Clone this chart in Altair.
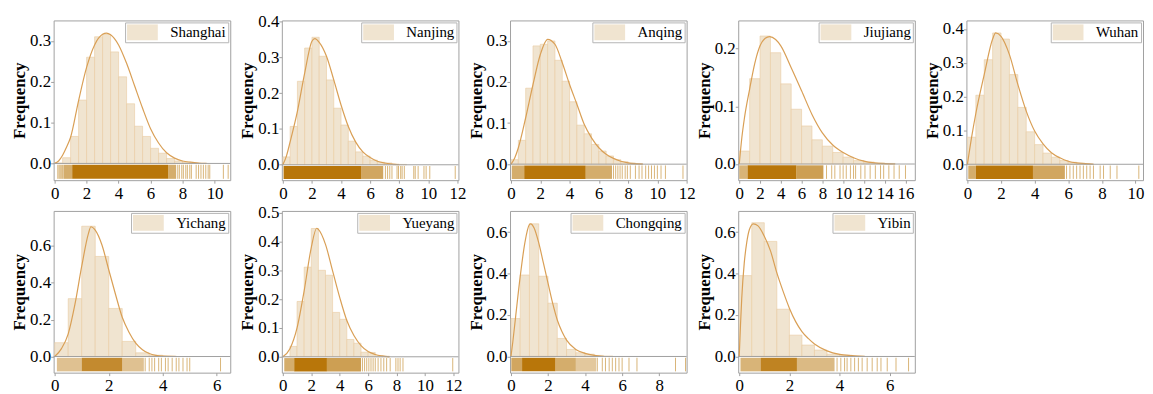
import altair as alt
import pandas as pd

FONT = "Liberation Serif, Times New Roman, Times, DejaVu Serif, serif"
BAR_FILL = "#f0e4d0"
BAR_EDGE = "#e9cba0"
CURVE_COLOR = "#d99f55"
RUG_COLOR = "#b8760a"
FRAME = "#a0a0a0"

CITIES = ["Shanghai", "Nanjing", "Anqing", "Jiujiang", "Wuhan",
          "Yichang", "Yueyang", "Chongqing", "Yibin"]

BIN_WIDTH = [0.5, 0.5, 0.5, 1.0, 0.5, 0.5, 0.5, 0.5, 0.5]

X_MIN = [-0.06, -0.07, -0.07, -0.1, -0.06, -0.04, -0.07, -0.05, -0.04]
X_MAX = [10.98, 12.07, 12.0, 16.9, 10.45, 6.5, 12.35, 9.48, 7.0]
Y_MIN = [-0.041, -0.043, -0.039, -0.028, -0.047, -0.0875, -0.055, -0.078, -0.078]
Y_MAX = [0.35, 0.403, 0.35, 0.249, 0.425, 0.79, 0.506, 0.702, 0.702]
X_TICK_STEP = [2, 2, 2, 2, 2, 2, 2, 2, 2]
Y_TICK_STEP = [0.1, 0.1, 0.1, 0.1, 0.1, 0.2, 0.1, 0.2, 0.2]

# ---- histogram frequencies (bins start at 0) ----
SHANGHAI_FREQ = [0.001, 0.014, 0.066, 0.155, 0.26, 0.31, 0.316, 0.273, 0.212, 0.146,
                 0.091, 0.066, 0.037, 0.025, 0.012, 0.006, 0.003, 0.001]
NANJING_FREQ = [0.022, 0.107, 0.233, 0.326, 0.356, 0.303, 0.237, 0.158, 0.111, 0.066,
                0.036, 0.024, 0.013, 0.007, 0.005, 0.002, 0.001]
ANQING_FREQ = [0.011, 0.058, 0.185, 0.288, 0.292, 0.30, 0.253, 0.202, 0.152, 0.095,
               0.074, 0.048, 0.032, 0.02, 0.011, 0.006, 0.003, 0.001]
JIUJIANG_FREQ = [0.0225, 0.148, 0.222, 0.193, 0.139, 0.095, 0.066, 0.042, 0.031, 0.02,
                 0.012, 0.006, 0.0035, 0.002, 0.001]
WUHAN_FREQ = [0.08, 0.204, 0.309, 0.388, 0.37, 0.265, 0.168, 0.096, 0.058, 0.033,
              0.021, 0.011, 0.006, 0.003, 0.001]
YICHANG_FREQ = [0.075, 0.314, 0.707, 0.543, 0.261, 0.082, 0.02, 0.007, 0.003]
YUEYANG_FREQ = [0.001, 0.036, 0.192, 0.311, 0.445, 0.30, 0.283, 0.154, 0.13, 0.06,
                0.047, 0.016, 0.015, 0.003, 0.002]
CHONGQING_FREQ = [0.183, 0.393, 0.64, 0.387, 0.257, 0.087, 0.034, 0.018, 0.011, 0.005, 0.002]
YIBIN_FREQ = [0.39, 0.645, 0.555, 0.228, 0.103, 0.055, 0.031, 0.011, 0.006, 0.003]

# ---- fitted density curves ----
SHANGHAI_CX = [0, 0.25, 0.5, 0.75, 1, 1.5, 2, 2.5, 3, 3.25, 3.5, 4, 4.5, 5, 5.5, 6, 6.5, 7, 7.5, 8, 8.5, 9, 9.5]
SHANGHAI_CY = [0, 0.006, 0.02, 0.04, 0.064, 0.154, 0.235, 0.29, 0.316, 0.319, 0.315, 0.29, 0.245,
               0.19, 0.135, 0.085, 0.05, 0.026, 0.013, 0.006, 0.003, 0.001, 0]
NANJING_CX = [0, 0.25, 0.5, 1, 1.5, 2, 2.2, 2.5, 3, 3.5, 4, 4.5, 5, 5.5, 6, 6.5, 7, 7.5, 8]
NANJING_CY = [0, 0.025, 0.064, 0.149, 0.256, 0.345, 0.352, 0.342, 0.303, 0.237, 0.167, 0.107,
              0.064, 0.036, 0.02, 0.01, 0.005, 0.002, 0]
ANQING_CX = [0, 0.25, 0.5, 1, 1.5, 2, 2.5, 3, 3.5, 4, 4.5, 5, 5.5, 6, 6.5, 7, 7.5, 8, 9]
ANQING_CY = [0, 0.015, 0.04, 0.113, 0.194, 0.267, 0.304, 0.292, 0.247, 0.194, 0.146, 0.097,
             0.064, 0.04, 0.024, 0.014, 0.007, 0.003, 0]
JIUJIANG_CX = [0, 0.25, 0.5, 1, 1.5, 2, 2.5, 2.92, 3.5, 4, 5, 6, 7, 8, 9, 10, 11, 12, 13, 14, 15]
JIUJIANG_CY = [0, 0.046, 0.08, 0.13, 0.175, 0.205, 0.218, 0.221, 0.216, 0.205, 0.167, 0.127,
               0.086, 0.054, 0.033, 0.02, 0.011, 0.005, 0.002, 0.0006, 0]
WUHAN_CX = [0, 0.25, 0.5, 1, 1.5, 1.68, 2, 2.5, 3, 3.5, 4, 4.5, 5, 5.5, 6, 6.5, 7, 7.5]
WUHAN_CY = [0, 0.08, 0.15, 0.265, 0.37, 0.388, 0.378, 0.324, 0.236, 0.157, 0.098, 0.06,
            0.034, 0.019, 0.009, 0.004, 0.002, 0]
YICHANG_CX = [0, 0.25, 0.5, 0.75, 1, 1.25, 1.34, 1.5, 1.75, 2, 2.25, 2.5, 2.75, 3, 3.25, 3.5, 3.75, 4, 4.5]
YICHANG_CY = [0, 0.043, 0.123, 0.284, 0.49, 0.668, 0.704, 0.686, 0.605, 0.471, 0.338, 0.213,
              0.132, 0.073, 0.037, 0.016, 0.006, 0.002, 0]
YUEYANG_CX = [0, 0.5, 1, 1.5, 2, 2.38, 2.5, 3, 3.5, 4, 4.5, 5, 5.5, 6, 6.5, 7, 7.5]
YUEYANG_CY = [0, 0.028, 0.1, 0.229, 0.379, 0.446, 0.442, 0.39, 0.298, 0.206, 0.126, 0.074,
              0.039, 0.018, 0.008, 0.003, 0]
CHONGQING_CX = [0, 0.1, 0.25, 0.5, 0.75, 1, 1.06, 1.25, 1.5, 1.75, 2, 2.25, 2.5, 2.75, 3, 3.5, 4, 4.5, 5]
CHONGQING_CY = [0, 0.07, 0.19, 0.386, 0.548, 0.637, 0.64, 0.62, 0.548, 0.451, 0.354, 0.257,
                0.176, 0.12, 0.079, 0.034, 0.015, 0.005, 0]
YIBIN_CX = [0, 0.05, 0.1, 0.2, 0.3, 0.4, 0.56, 0.75, 1, 1.25, 1.5, 1.75, 2, 2.25, 2.5, 2.75, 3, 3.5, 4, 4.5, 5]
YIBIN_CY = [0, 0.15, 0.28, 0.45, 0.55, 0.61, 0.64, 0.63, 0.58, 0.508, 0.403, 0.314, 0.233,
            0.168, 0.12, 0.087, 0.06, 0.027, 0.01, 0.004, 0]

# ---- rug: dense stretches [start, end, density] and isolated observations ----
SHANGHAI_RUG_BANDS = [[0.55, 1.1, 0.6], [1.1, 7.1, 1.0], [7.1, 7.6, 0.6]]
SHANGHAI_RUG = [0.2, 0.28, 0.35, 0.42, 0.5, 7.7, 7.8, 7.95, 8.05, 8.2, 8.3, 8.45, 8.55,
                8.85, 9.0, 9.15, 9.3, 9.45, 9.6, 9.7, 10.55, 10.85]
NANJING_RUG_BANDS = [[0.05, 5.4, 1.0], [5.4, 6.9, 0.65]]
NANJING_RUG = [7.05, 7.2, 7.35, 7.5, 7.85, 7.95, 8.1, 8.2, 8.35, 9.0, 9.1, 9.3, 9.7, 9.85,
               10.1, 11.85]
ANQING_RUG_BANDS = [[0.05, 0.9, 0.6], [0.9, 5.1, 1.0], [5.1, 6.9, 0.6]]
ANQING_RUG = [7.0, 7.15, 7.3, 7.45, 7.6, 7.8, 7.95, 8.15, 8.5, 8.75, 8.95, 9.2, 9.4, 9.6,
              9.8, 10.0, 10.25, 10.55, 11.75]
JIUJIANG_RUG_BANDS = [[0.0, 0.8, 0.55], [0.8, 5.5, 1.0], [5.5, 8.1, 0.7]]
JIUJIANG_RUG = [8.4, 8.9, 9.2, 9.7, 10.0, 10.3, 10.7, 11.0, 11.2, 11.7, 12.1, 12.6, 13.1,
                13.6, 13.9, 14.4, 14.9, 15.4, 16.0]
WUHAN_RUG_BANDS = [[0.05, 0.5, 0.6], [0.5, 3.9, 1.0], [3.9, 5.8, 0.65]]
WUHAN_RUG = [5.9, 6.1, 6.3, 6.5, 6.7, 6.9, 7.1, 7.3, 7.5, 7.9, 8.1, 8.5, 8.9, 10.2]
YICHANG_RUG_BANDS = [[0.08, 1.0, 0.45], [1.0, 2.5, 0.85], [2.5, 3.3, 0.45]]
YICHANG_RUG = [3.35, 3.5, 3.6, 3.7, 3.85, 3.95, 4.1, 4.2, 4.35, 4.5, 4.6, 4.75, 4.9, 5.0, 6.14]
YUEYANG_RUG_BANDS = [[0.1, 0.8, 0.6], [0.8, 3.1, 1.0], [3.1, 5.5, 0.7]]
YUEYANG_RUG = [5.6, 5.75, 5.9, 6.05, 6.2, 6.35, 6.5, 6.7, 6.9, 7.1, 7.3, 7.55, 7.95, 8.1,
               8.25, 8.45, 11.95]
CHONGQING_RUG_BANDS = [[0.02, 0.6, 0.65], [0.6, 2.4, 1.0], [2.4, 3.5, 0.6], [3.5, 4.6, 0.4]]
CHONGQING_RUG = [4.66, 4.93, 5.1, 5.3, 5.47, 5.65, 5.83, 6.0, 6.37, 6.8, 8.88, 9.42]
YIBIN_RUG_BANDS = [[0.05, 0.85, 0.55], [0.85, 2.3, 0.9], [2.3, 3.8, 0.5]]
YIBIN_RUG = [3.9, 4.05, 4.2, 4.3, 4.45, 4.6, 4.75, 4.9, 5.1, 5.3, 5.5, 5.65, 5.9, 6.25, 6.75]

FREQS = [SHANGHAI_FREQ, NANJING_FREQ, ANQING_FREQ, JIUJIANG_FREQ, WUHAN_FREQ,
         YICHANG_FREQ, YUEYANG_FREQ, CHONGQING_FREQ, YIBIN_FREQ]
CURVE_X = [SHANGHAI_CX, NANJING_CX, ANQING_CX, JIUJIANG_CX, WUHAN_CX,
           YICHANG_CX, YUEYANG_CX, CHONGQING_CX, YIBIN_CX]
CURVE_Y = [SHANGHAI_CY, NANJING_CY, ANQING_CY, JIUJIANG_CY, WUHAN_CY,
           YICHANG_CY, YUEYANG_CY, CHONGQING_CY, YIBIN_CY]
RUG_BANDS = [SHANGHAI_RUG_BANDS, NANJING_RUG_BANDS, ANQING_RUG_BANDS, JIUJIANG_RUG_BANDS,
             WUHAN_RUG_BANDS, YICHANG_RUG_BANDS, YUEYANG_RUG_BANDS, CHONGQING_RUG_BANDS,
             YIBIN_RUG_BANDS]
RUGS = [SHANGHAI_RUG, NANJING_RUG, ANQING_RUG, JIUJIANG_RUG, WUHAN_RUG,
        YICHANG_RUG, YUEYANG_RUG, CHONGQING_RUG, YIBIN_RUG]

LEGEND_PATH = "M-1.9375,-1H1.9375V1H-1.9375Z"


def ticks(vmax, step):
    n = int(vmax / step + 1e-9)
    return [round(i * step, 6) for i in range(n + 1)]


def panel(i):
    name = CITIES[i]
    bw = BIN_WIDTH[i]
    freq = FREQS[i]
    xsc = alt.Scale(domain=[X_MIN[i], X_MAX[i]], nice=False, zero=False)
    ysc = alt.Scale(domain=[Y_MIN[i], Y_MAX[i]], nice=False, zero=False)
    xax = alt.Axis(title=None, values=ticks(X_MAX[i], X_TICK_STEP[i]), format="d")
    yax = alt.Axis(title="Frequency", values=ticks(Y_MAX[i], Y_TICK_STEP[i]), format=".1f")
    r0 = Y_MIN[i] * 0.08
    r1 = Y_MIN[i] * 0.92

    bars_df = pd.DataFrame({
        "a": [k * bw for k in range(len(freq))],
        "b": [(k + 1) * bw for k in range(len(freq))],
        "f": freq,
        "z": [0.0] * len(freq),
        "city": [name] * len(freq),
    })
    bars = alt.Chart(bars_df).mark_rect(stroke=BAR_EDGE, strokeWidth=0.6).encode(
        x=alt.X("a:Q", scale=xsc, axis=xax),
        x2="b",
        y=alt.Y("z:Q", scale=ysc, axis=yax),
        y2="f",
        color=alt.Color("city:N", scale=alt.Scale(domain=[name], range=[BAR_FILL]),
                        legend=alt.Legend(title=None)),
    )

    curve_df = pd.DataFrame({"x": CURVE_X[i], "y": CURVE_Y[i]})
    curve = alt.Chart(curve_df).mark_line(color=CURVE_COLOR, strokeWidth=1.2,
                                          interpolate="monotone").encode(
        x=alt.X("x:Q", scale=xsc, axis=xax),
        y=alt.Y("y:Q", scale=ysc, axis=yax),
    )

    zero = alt.Chart(pd.DataFrame({"z": [0.0]})).mark_rule(color=FRAME, strokeWidth=1).encode(
        y=alt.Y("z:Q", scale=ysc, axis=yax),
    )

    bands = RUG_BANDS[i]
    band_df = pd.DataFrame({
        "s": [b[0] for b in bands],
        "e": [b[1] for b in bands],
        "d": [b[2] for b in bands],
        "r0": [r0] * len(bands),
        "r1": [r1] * len(bands),
    })
    band = alt.Chart(band_df).mark_rect(color=RUG_COLOR).encode(
        x=alt.X("s:Q", scale=xsc, axis=xax),
        x2="e",
        y=alt.Y("r0:Q", scale=ysc, axis=yax),
        y2="r1",
        opacity=alt.Opacity("d:Q", scale=None),
    )

    rug_df = pd.DataFrame({"v": RUGS[i], "r0": [r0] * len(RUGS[i]), "r1": [r1] * len(RUGS[i])})
    rug = alt.Chart(rug_df).mark_rule(color=RUG_COLOR, strokeWidth=1, opacity=0.55).encode(
        x=alt.X("v:Q", scale=xsc, axis=xax),
        y=alt.Y("r0:Q", scale=ysc, axis=yax),
        y2="r1",
    )

    h = 161 if i < 5 else 163
    return alt.layer(bars, curve, zero, band, rug).properties(width=178, height=h)


chart = alt.concat(*[panel(i) for i in range(9)], columns=5,
                   spacing={"row": 31, "column": 52}, bounds="flush") \
    .resolve_scale(color="independent") \
    .resolve_legend(color="independent") \
    .properties(padding={"left": 2, "top": 2, "right": 0, "bottom": 0}) \
    .configure_view(stroke=FRAME, strokeWidth=1) \
    .configure_axis(labelFont=FONT, labelFontSize=17, labelColor="black",
                    titleFont=FONT, titleFontSize=17, titleFontWeight="bold",
                    titleColor="black", grid=False, domain=False, ticks=True,
                    tickColor=FRAME, tickSize=3, labelPadding=2, labelFlush=False,
                    labelOverlap=False) \
    .configure_axisY(titlePadding=1, labelPadding=0) \
    .configure_legend(orient="top-right", offset=2, labelFont=FONT, labelFontSize=15,
                      labelColor="black", strokeColor="#b4b4b4", fillColor="white",
                      padding=2, symbolType=LEGEND_PATH, symbolSize=256,
                      symbolOffset=7.5, labelOffset=20, symbolStrokeWidth=0,
                      symbolOpacity=1, cornerRadius=0, labelLimit=300)

chart.save("out.html", embed_options={"renderer": "svg", "actions": False})
